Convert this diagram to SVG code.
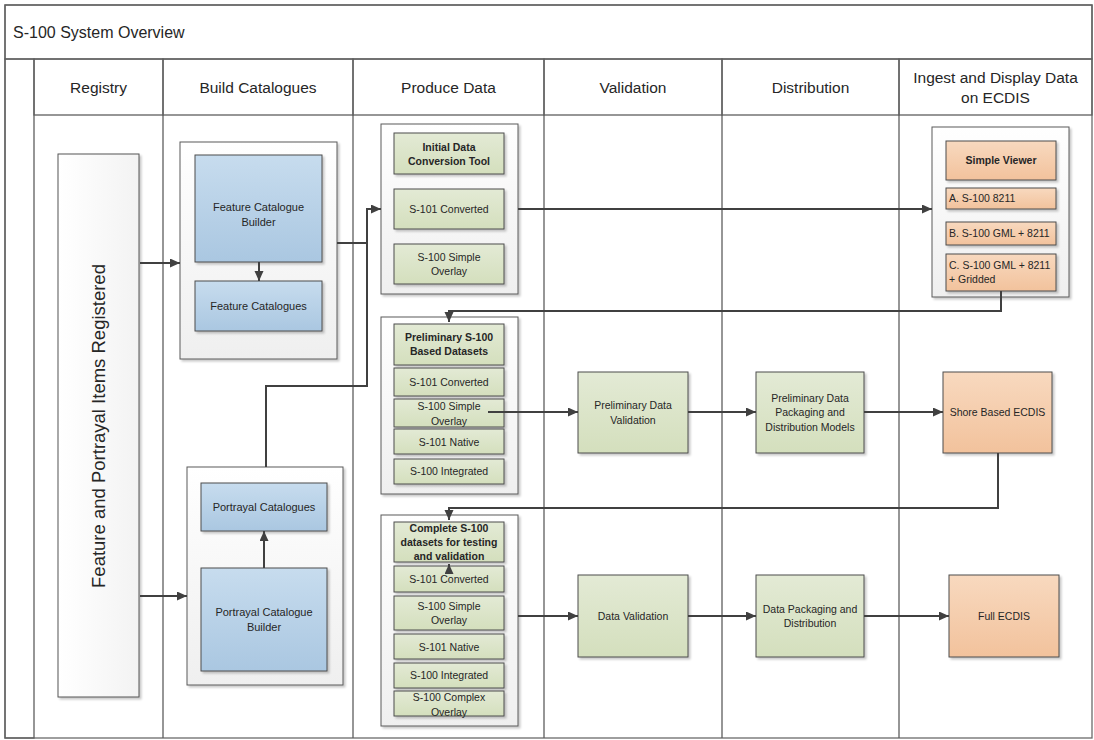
<svg xmlns="http://www.w3.org/2000/svg" width="1094" height="740" viewBox="0 0 1094 740">
<defs>
<linearGradient id="gTitle" x1="0" y1="0" x2="0" y2="1"><stop offset="0" stop-color="#fdfdfd"/><stop offset="1" stop-color="#ededed"/></linearGradient>
<linearGradient id="gHead" x1="0" y1="0" x2="0" y2="1"><stop offset="0" stop-color="#fbfbfb"/><stop offset="1" stop-color="#ebebeb"/></linearGradient>
<linearGradient id="gStrip" x1="0" y1="0" x2="1" y2="0"><stop offset="0" stop-color="#fafafa"/><stop offset="1" stop-color="#e6e6e6"/></linearGradient>
<linearGradient id="gReg" x1="0" y1="0" x2="1" y2="0"><stop offset="0" stop-color="#ffffff"/><stop offset="1" stop-color="#f3f3f3"/></linearGradient>
<linearGradient id="gBlue" x1="0" y1="0" x2="0" y2="1"><stop offset="0" stop-color="#c7dcee"/><stop offset="1" stop-color="#aac7e1"/></linearGradient>
<linearGradient id="gGreen" x1="0" y1="0" x2="0" y2="1"><stop offset="0" stop-color="#e3ead5"/><stop offset="1" stop-color="#d4dfbd"/></linearGradient>
<linearGradient id="gOrange" x1="0" y1="0" x2="0" y2="1"><stop offset="0" stop-color="#f8d9bf"/><stop offset="1" stop-color="#f2c29c"/></linearGradient>
<linearGradient id="gCont" x1="0" y1="0" x2="0" y2="1"><stop offset="0" stop-color="#ffffff"/><stop offset="1" stop-color="#efefef"/></linearGradient>
<filter id="sh" x="-10%" y="-10%" width="130%" height="130%"><feDropShadow dx="2" dy="2" stdDeviation="1" flood-color="#000" flood-opacity="0.22"/></filter>
<marker id="ah" markerWidth="11" markerHeight="10" refX="10" refY="4.5" orient="auto" markerUnits="userSpaceOnUse"><path d="M0,0 L10,4.5 L0,9 z" fill="#404040"/></marker>
</defs>
<style>
text{font-family:"Liberation Sans",Arial,sans-serif;fill:#262626}
.lane{fill:none;stroke:#5f5f5f;stroke-width:1.3}
.hd{font-size:15.5px;text-anchor:middle}
.cont{fill:url(#gCont);stroke:#5a5a5a;stroke-width:1;filter:url(#sh)}
.blue{fill:url(#gBlue);stroke:#4d4d4d;stroke-width:1;filter:url(#sh)}
.green{fill:url(#gGreen);stroke:#4d4d4d;stroke-width:1;filter:url(#sh)}
.orange{fill:url(#gOrange);stroke:#4d4d4d;stroke-width:1;filter:url(#sh)}
.t11{font-size:11px;text-anchor:middle}
.t{font-size:10.5px;text-anchor:middle}
.tb{font-size:10.5px;text-anchor:middle;font-weight:bold}
.tl{font-size:10.5px}
.con{fill:none;stroke:#404040;stroke-width:2}
.arr{marker-end:url(#ah)}
</style>

<g id="swimlanes">
<rect x="5" y="5" width="1087" height="733" fill="#ffffff" stroke="#6a6a6a" stroke-width="1.3"/>
<rect x="5" y="5" width="1087" height="54" fill="url(#gTitle)" class="lane"/>
<text x="13" y="38" style="font-size:16px">S-100 System Overview</text>
<rect x="5" y="59" width="29" height="679" fill="url(#gStrip)" class="lane"/>
<rect x="34" y="59" width="129" height="56" fill="url(#gHead)" class="lane"/>
<rect x="163" y="59" width="190" height="56" fill="url(#gHead)" class="lane"/>
<rect x="353" y="59" width="191" height="56" fill="url(#gHead)" class="lane"/>
<rect x="544" y="59" width="178" height="56" fill="url(#gHead)" class="lane"/>
<rect x="722" y="59" width="177" height="56" fill="url(#gHead)" class="lane"/>
<rect x="899" y="59" width="193" height="56" fill="url(#gHead)" class="lane"/>
<path class="lane" d="M163,115 V738 M353,115 V738 M544,115 V738 M722,115 V738 M899,115 V738"/>
<text class="hd" x="98.5" y="93">Registry</text>
<text class="hd" x="258" y="93">Build Catalogues</text>
<text class="hd" x="448.5" y="93">Produce Data</text>
<text class="hd" x="633" y="93">Validation</text>
<text class="hd" x="810.5" y="93">Distribution</text>
<text class="hd" x="995.5" y="83">Ingest and Display Data</text>
<text class="hd" x="995.5" y="103">on ECDIS</text>
</g>

<g id="registry">
<rect x="58" y="154" width="81" height="543" fill="url(#gReg)" stroke="#555" stroke-width="1" filter="url(#sh)"/>
<text x="0" y="0" transform="translate(104.5,426) rotate(-90)" style="font-size:18.5px;text-anchor:middle">Feature and Portrayal Items Registered</text>
</g>

<g id="feature-catalogue-group">
<rect class="cont" x="180" y="142" width="157" height="217"/>
<g id="feature-catalogue-builder">
<rect class="blue" x="195" y="155" width="127" height="107"/>
<text class="t11" x="258.5" y="211">Feature Catalogue</text>
<text class="t11" x="258.5" y="226">Builder</text>
</g>
<g id="feature-catalogues">
<rect class="blue" x="195" y="281" width="127" height="50"/>
<text class="t11" x="258.5" y="310">Feature Catalogues</text>
</g>
</g>

<g id="portrayal-catalogue-group">
<rect class="cont" x="187" y="467" width="156" height="218"/>
<g id="portrayal-catalogues">
<rect class="blue" x="201" y="483" width="126" height="48"/>
<text class="t11" x="264" y="511">Portrayal Catalogues</text>
</g>
<g id="portrayal-catalogue-builder">
<rect class="blue" x="201" y="568" width="126" height="103"/>
<text class="t11" x="264" y="616">Portrayal Catalogue</text>
<text class="t11" x="264" y="631">Builder</text>
</g>
</g>

<g id="initial-data-conversion">
<rect class="cont" x="381" y="124" width="137" height="170"/>
<rect class="green" x="394" y="133" width="110" height="41"/>
<text class="tb" x="449" y="151">Initial Data</text>
<text class="tb" x="449" y="165">Conversion Tool</text>
<rect class="green" x="394" y="189" width="110" height="40"/>
<text class="t" x="449" y="213">S-101 Converted</text>
<rect class="green" x="394" y="244" width="110" height="40"/>
<text class="t" x="449" y="261">S-100 Simple</text>
<text class="t" x="449" y="275">Overlay</text>
</g>

<g id="preliminary-datasets">
<rect class="cont" x="381" y="317" width="137" height="177"/>
<rect class="green" x="394" y="324" width="110" height="41"/>
<text class="tb" x="449" y="341">Preliminary S-100</text>
<text class="tb" x="449" y="355">Based Datasets</text>
<rect class="green" x="394" y="368" width="110" height="28"/>
<text class="t" x="449" y="386">S-101 Converted</text>
<rect class="green" x="394" y="399" width="110" height="28"/>
<text class="t" x="449" y="410">S-100 Simple</text>
<text class="t" x="449" y="425">Overlay</text>
<rect class="green" x="394" y="429" width="110" height="25"/>
<text class="t" x="449" y="446">S-101 Native</text>
<rect class="green" x="394" y="459" width="110" height="25"/>
<text class="t" x="449" y="475">S-100 Integrated</text>
</g>

<g id="complete-datasets">
<rect class="cont" x="381" y="515" width="137" height="211"/>
<rect class="green" x="394" y="522" width="110" height="40"/>
<text class="tb" x="449" y="532">Complete S-100</text>
<text class="tb" x="449" y="546">datasets for testing</text>
<text class="tb" x="449" y="560">and validation</text>
<rect class="green" x="394" y="566" width="110" height="26"/>
<text class="t" x="449" y="583">S-101 Converted</text>
<rect class="green" x="394" y="596" width="110" height="34"/>
<text class="t" x="449" y="610">S-100 Simple</text>
<text class="t" x="449" y="624">Overlay</text>
<rect class="green" x="394" y="634" width="110" height="25"/>
<text class="t" x="449" y="651">S-101 Native</text>
<rect class="green" x="394" y="663" width="110" height="25"/>
<text class="t" x="449" y="679">S-100 Integrated</text>
<rect class="green" x="394" y="691" width="110" height="25"/>
<text class="t" x="449" y="701">S-100 Complex</text>
<text class="t" x="449" y="716">Overlay</text>
</g>

<g id="simple-viewer">
<rect class="cont" x="932" y="127" width="137" height="170"/>
<rect class="orange" x="946" y="141" width="110" height="39"/>
<text class="tb" x="1001" y="164">Simple Viewer</text>
<rect class="orange" x="946" y="188" width="110" height="21"/>
<text class="tl" x="949" y="202">A. S-100 8211</text>
<rect class="orange" x="946" y="222" width="110" height="23"/>
<text class="tl" x="949" y="237">B. S-100 GML + 8211</text>
<rect class="orange" x="946" y="254" width="110" height="37"/>
<text class="tl" x="949" y="269">C. S-100 GML + 8211</text>
<text class="tl" x="949" y="283">+ Gridded</text>
</g>

<g id="preliminary-data-validation">
<rect class="green" x="578" y="372" width="110" height="81"/>
<text class="t" x="633" y="409">Preliminary Data</text>
<text class="t" x="633" y="424">Validation</text>
</g>
<g id="preliminary-packaging">
<rect class="green" x="756" y="372" width="108" height="81"/>
<text class="t" x="810" y="402">Preliminary Data</text>
<text class="t" x="810" y="416">Packaging and</text>
<text class="t" x="810" y="431">Distribution Models</text>
</g>
<g id="shore-based-ecdis">
<rect class="orange" x="943" y="372" width="109" height="81"/>
<text class="t" x="997.5" y="416">Shore Based ECDIS</text>
</g>
<g id="data-validation">
<rect class="green" x="578" y="575" width="110" height="82"/>
<text class="t" x="633" y="620">Data Validation</text>
</g>
<g id="data-packaging">
<rect class="green" x="756" y="575" width="108" height="82"/>
<text class="t" x="810" y="613">Data Packaging and</text>
<text class="t" x="810" y="627">Distribution</text>
</g>
<g id="full-ecdis">
<rect class="orange" x="949" y="575" width="110" height="82"/>
<text class="t" x="1004" y="620">Full ECDIS</text>
</g>

<g id="connectors">
<path class="con arr" d="M140,263 H180"/>
<path class="con arr" d="M140,596 H187"/>
<path class="con arr" d="M259,262 V281"/>
<path class="con arr" d="M264,568 V531"/>
<path class="con arr" d="M337,243 H367 V209 H381"/>
<path class="con" d="M266,467 V386 H367 V243"/>
<path class="con arr" d="M518,209 H932"/>
<path class="con arr" d="M1001,291 V311 H449 V322"/>
<path class="con arr" d="M488,412 H578"/>
<path class="con arr" d="M688,412 H756"/>
<path class="con arr" d="M864,412 H943"/>
<path class="con arr" d="M998,453 V508 H449 V520"/>
<path class="con arr" d="M449,573 V564"/>
<path class="con arr" d="M518,616 H578"/>
<path class="con arr" d="M688,616 H756"/>
<path class="con arr" d="M864,616 H949"/>
</g>
</svg>
